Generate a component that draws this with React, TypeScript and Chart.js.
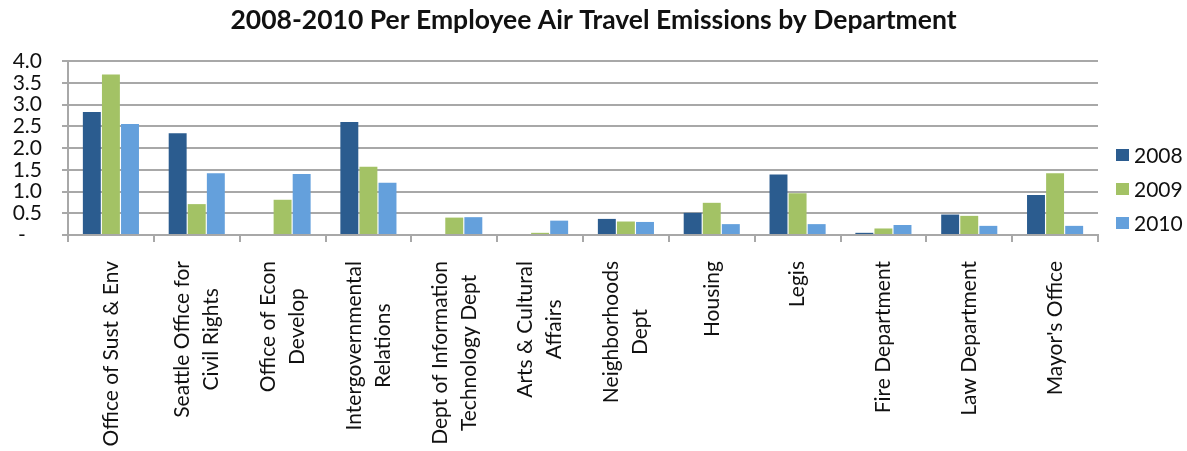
import React, { useEffect, useRef } from "react";
import { Chart, registerables } from "chart.js";

Chart.register(...registerables);

const TITLE = "2008-2010 Per Employee Air Travel Emissions by Department";

const categories: string[][] = [
  ["Office of Sust & Env"],
  ["Seattle Office for", "Civil Rights"],
  ["Office of Econ", "Develop"],
  ["Intergovernmental", "Relations"],
  ["Dept of Information", "Technology Dept"],
  ["Arts & Cultural", "Affairs"],
  ["Neighborhoods", "Dept"],
  ["Housing"],
  ["Legis"],
  ["Fire Department"],
  ["Law Department"],
  ["Mayor's Office"],
];

const seriesNames = ["2008", "2009", "2010"];
const values2008 = [2.83, 2.34, 0, 2.6, 0, 0, 0.37, 0.51, 1.39, 0.05, 0.47, 0.92];
const values2009 = [3.69, 0.71, 0.81, 1.57, 0.4, 0.05, 0.31, 0.74, 0.96, 0.15, 0.44, 1.42];
const values2010 = [2.55, 1.42, 1.4, 1.2, 0.41, 0.33, 0.3, 0.25, 0.25, 0.23, 0.21, 0.21];
const seriesColors = ["#2b5c8f", "#a3c265", "#64a0dc"];

const yTicks = [0, 0.5, 1, 1.5, 2, 2.5, 3, 3.5, 4];

const FONT = "Lato, 'Open Sans', sans-serif";
const GRID = "#a8a8a8";

const drawPlugin = {
  id: "customText",
  afterDraw(chart: any) {
    const ctx = chart.ctx as CanvasRenderingContext2D;
    ctx.save();
    // Title
    ctx.fillStyle = "#111";
    ctx.font = `bold 26.5px ${FONT}`;
    ctx.textAlign = "center";
    ctx.textBaseline = "middle";
    ctx.fillText(TITLE, chart.width / 2, 20);

    // Legend
    ctx.font = `21px ${FONT}`;
    ctx.textAlign = "left";
    const legendY = [155, 189, 223];
    chart.data.datasets.forEach((ds: any, i: number) => {
      const y = legendY[i];
      ctx.fillStyle = ds.backgroundColor;
      ctx.fillRect(1116, y - 6, 13, 12);
      ctx.fillStyle = "#111";
      ctx.fillText(ds.label, 1134, y + 1);
    });

    // X labels (rotated, lines centered, block aligned to top)
    const xScale = chart.scales.x;
    const y0 = 261;
    const lineH = 29;
    ctx.font = `21px ${FONT}`;
    (chart.data.labels as string[][]).forEach((lines, i) => {
      const x = xScale.getPixelForValue(i);
      const maxW = Math.max(...lines.map((l) => ctx.measureText(l).width));
      ctx.save();
      ctx.translate(x, y0);
      ctx.rotate(-Math.PI / 2);
      ctx.textAlign = "center";
      ctx.textBaseline = "middle";
      ctx.fillStyle = "#111";
      lines.forEach((line, j) => {
        const off = (j - (lines.length - 1) / 2) * lineH;
        ctx.fillText(line, -maxW / 2, off);
      });
      ctx.restore();
    });
    ctx.restore();
  },
};

export default function App() {
  const ref = useRef<HTMLCanvasElement | null>(null);
  useEffect(() => {
    if (!ref.current) return;
    const chart = new Chart(ref.current, {
      type: "bar",
      data: {
        labels: categories,
        datasets: [
          { label: seriesNames[0], data: values2008, backgroundColor: seriesColors[0] },
          { label: seriesNames[1], data: values2009, backgroundColor: seriesColors[1] },
          { label: seriesNames[2], data: values2010, backgroundColor: seriesColors[2] },
        ],
      },
      options: {
        responsive: false,
        animation: false,
        devicePixelRatio: 1,
        layout: { padding: { top: 61, right: 89, left: 0, bottom: 0 } },
        datasets: { bar: { categoryPercentage: 0.667, barPercentage: 0.94 } },
        plugins: {
          legend: { display: false },
          title: { display: false },
          tooltip: { enabled: false },
        },
        scales: {
          x: {
            offset: true,
            ticks: { display: false },
            grid: {
              offset: true,
              drawOnChartArea: false,
              drawTicks: true,
              tickLength: 7,
              color: GRID,
              lineWidth: 2,
            },
            border: { display: true, color: GRID, width: 2 },
            afterFit: (s: any) => {
              s.height = 216;
            },
          },
          y: {
            min: 0,
            max: 4,
            afterBuildTicks: (s: any) => {
              s.ticks = yTicks.map((v) => ({ value: v }));
            },
            ticks: {
              autoSkip: false,
              padding: 20,
              color: "#111",
              font: { family: FONT, size: 21, lineHeight: 1 },
              callback: (v: any) => (Number(v) === 0 ? "-   " : Number(v).toFixed(1)),
            },
            grid: { color: GRID, lineWidth: 2, tickLength: 6 },
            border: { display: true, color: GRID, width: 2 },
            afterFit: (s: any) => {
              s.width = 68;
            },
          },
        },
      },
      plugins: [drawPlugin],
    });
    return () => chart.destroy();
  }, []);
  return (
    <div style={{ position: "absolute", left: 0, top: 0, width: 1187, height: 451, background: "#fff" }}>
      <canvas ref={ref} width={1187} height={451} style={{ display: "block" }} />
    </div>
  );
}
